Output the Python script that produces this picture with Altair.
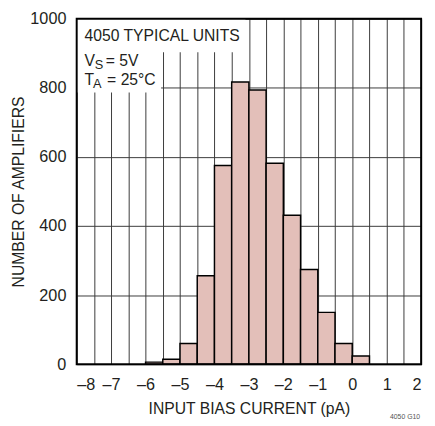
import altair as alt
import pandas as pd

# histogram data
bin_start = [-6.0, -5.5, -5.0, -4.5, -4.0, -3.5, -3.0, -2.5, -2.0, -1.5, -1.0, -0.5, 0.0]
bin_end = [-5.5, -5.0, -4.5, -4.0, -3.5, -3.0, -2.5, -2.0, -1.5, -1.0, -0.5, 0.0, 0.5]
counts = [6, 14, 60, 256, 575, 817, 794, 582, 431, 274, 150, 60, 24]

x_ticks = [-8, -7.5, -7, -6.5, -6, -5.5, -5, -4.5, -4, -3.5, -3, -2.5, -2, -1.5,
           -1, -0.5, 0, 0.5, 1, 1.5, 2]
y_ticks = [0, 200, 400, 600, 800, 1000]

FONT = "Liberation Sans, Arial, Helvetica, sans-serif"
TXT = "#231f20"
W, H = 351, 352

df = pd.DataFrame({"start": bin_start, "end": bin_end, "count": counts})
one = pd.DataFrame({"k": [0]})

label_expr = ("datum.value % 1 == 0 ? (datum.value < 0 ? '\u2013' + abs(datum.value) "
              ": '' + datum.value) : ''")

bars = alt.Chart(df).mark_rect(
    fill="#e3bfb9", stroke="#000000", strokeWidth=1.5
).encode(
    x=alt.X("start:Q",
            scale=alt.Scale(domain=[-8, 2], nice=False, zero=False),
            axis=alt.Axis(values=x_ticks, labelExpr=label_expr, labelOverlap=False,
                          grid=True, gridColor="#3a3a3a", gridWidth=1,
                          ticks=False, tickSize=0, domain=False,
                          labelFont=FONT, labelFontSize=16.5, labelColor=TXT,
                          labelPadding=25.5, labelBaseline="alphabetic",
                          title="INPUT BIAS CURRENT (pA)", titleFont=FONT,
                          titleFontSize=16, titleFontWeight="normal", titleColor=TXT,
                          titleBaseline="alphabetic", titleY=50, titleX=W / 2)),
    x2="end:Q",
    y=alt.Y("count:Q",
            scale=alt.Scale(domain=[0, 1000], nice=False),
            axis=alt.Axis(values=y_ticks, format="d", grid=True, gridColor="#3a3a3a",
                          gridWidth=1, ticks=False, tickSize=0, domain=False,
                          labelFont=FONT, labelFontSize=16.5, labelColor=TXT,
                          labelPadding=11, labelBaseline="middle",
                          title="NUMBER OF AMPLIFIERS", titleFont=FONT,
                          titleFontSize=16, titleFontWeight="normal", titleColor=TXT,
                          titleAngle=270, titleBaseline="alphabetic",
                          titleX=-54, titleY=H / 2, titleAlign="center")),
    y2=alt.datum(0),
)

box1 = alt.Chart(one).mark_rect(fill="white").encode(
    x=alt.value(0), x2=alt.value(172), y=alt.value(0), y2=alt.value(34))
box2 = alt.Chart(one).mark_rect(fill="white").encode(
    x=alt.value(0), x2=alt.value(86), y=alt.value(0), y2=alt.value(75))

def txt(s, x, y, size=16, align="left", baseline="alphabetic", color=TXT):
    return alt.Chart(one).mark_text(
        text=s, align=align, baseline=baseline, font=FONT, fontSize=size, color=color
    ).encode(x=alt.value(x), y=alt.value(y))

notes = [
    txt("4050 TYPICAL UNITS", 8, 23),
    txt("V", 8, 48),
    txt("S", 18.5, 51.5, size=13),
    txt("= 5V", 29.5, 48),
    txt("T", 8, 67),
    txt("A", 16.5, 70.5, size=13),
    txt("= 25\u00b0C", 31, 67),
    txt("4050 G10", 350, 402, size=7, align="right", baseline="top", color="#555555"),
]

frame = alt.Chart(one).mark_rect(fill=None, stroke="#000000", strokeWidth=2).encode(
    x=alt.value(0), x2=alt.value(W), y=alt.value(0), y2=alt.value(H))

chart = alt.layer(box1, box2, bars, *notes, frame).properties(
    width=W, height=H,
    autosize=alt.AutoSizeParams(type="none"),
    padding={"left": 70, "top": 7, "right": 6, "bottom": 59},
).configure_view(stroke=None).configure(background="white")

chart.save("out.html", embed_options={"renderer": "svg", "actions": False})
